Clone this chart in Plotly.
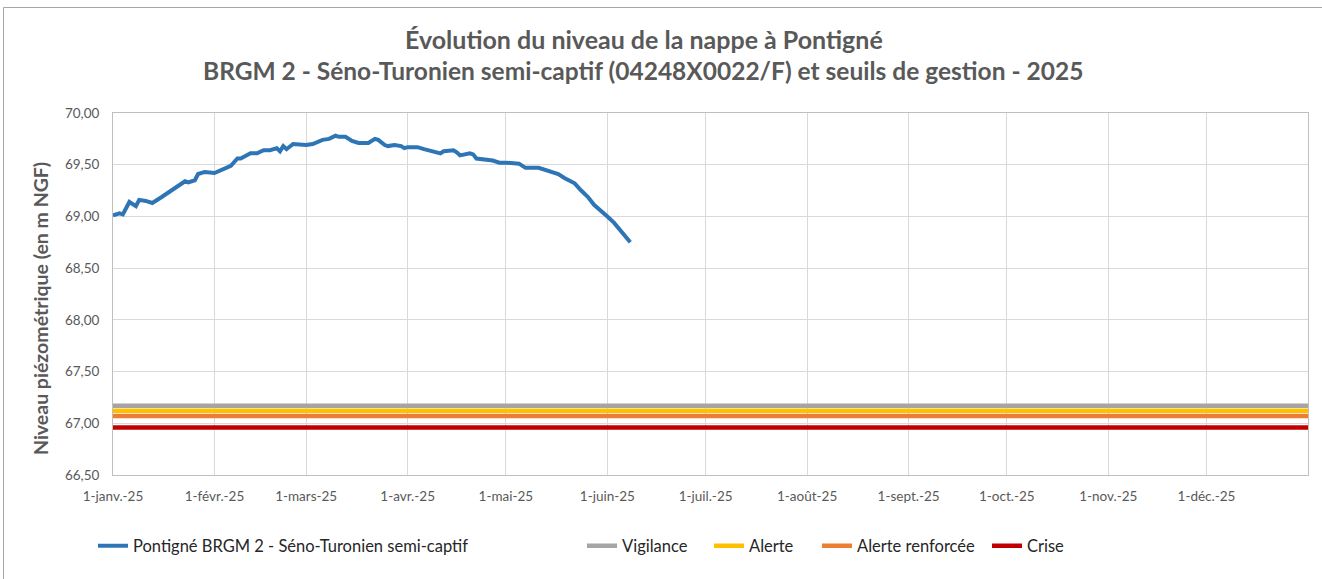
import plotly.graph_objects as go

# ---- data ----
dates = [
    "2025-01-01", "2025-01-03", "2025-01-04", "2025-01-06", "2025-01-08", "2025-01-09",
    "2025-01-11", "2025-01-13", "2025-01-16", "2025-01-17", "2025-01-20", "2025-01-21",
    "2025-01-23", "2025-01-24", "2025-01-26", "2025-01-27", "2025-01-29", "2025-02-01",
    "2025-02-03", "2025-02-05", "2025-02-06", "2025-02-08", "2025-02-09", "2025-02-12",
    "2025-02-14", "2025-02-16", "2025-02-18", "2025-02-20", "2025-02-21", "2025-02-22",
    "2025-02-23", "2025-02-25", "2025-03-01", "2025-03-03", "2025-03-06", "2025-03-08",
    "2025-03-10", "2025-03-11", "2025-03-13", "2025-03-15", "2025-03-17", "2025-03-20",
    "2025-03-21", "2025-03-22", "2025-03-23", "2025-03-25", "2025-03-26", "2025-03-28",
    "2025-03-30", "2025-03-31", "2025-04-01", "2025-04-04", "2025-04-06", "2025-04-08",
    "2025-04-09", "2025-04-11", "2025-04-12", "2025-04-15", "2025-04-16", "2025-04-17",
    "2025-04-20", "2025-04-21", "2025-04-22", "2025-04-24", "2025-04-27", "2025-04-29",
    "2025-05-01", "2025-05-05", "2025-05-06", "2025-05-07", "2025-05-11", "2025-05-13",
    "2025-05-15", "2025-05-17", "2025-05-19", "2025-05-22", "2025-05-24", "2025-05-26",
    "2025-05-28", "2025-05-30", "2025-06-01", "2025-06-03", "2025-06-05", "2025-06-07",
    "2025-06-08",
]
niveau = [
    69.01, 69.03, 69.02, 69.14, 69.10, 69.16,
    69.15, 69.13, 69.19, 69.21, 69.27, 69.29,
    69.34, 69.33, 69.35, 69.41, 69.43, 69.42,
    69.45, 69.47, 69.49, 69.56, 69.56, 69.61,
    69.61, 69.64, 69.64, 69.66, 69.63, 69.68,
    69.65, 69.70, 69.69, 69.70, 69.74, 69.75,
    69.78, 69.77, 69.77, 69.73, 69.71, 69.71,
    69.73, 69.75, 69.74, 69.69, 69.68, 69.69,
    69.68, 69.66, 69.67, 69.67, 69.65, 69.63,
    69.62, 69.61, 69.63, 69.64, 69.62, 69.59,
    69.61, 69.60, 69.56, 69.55, 69.54, 69.52,
    69.52, 69.51, 69.49, 69.47, 69.47, 69.45,
    69.43, 69.41, 69.37, 69.32, 69.25, 69.19,
    69.11, 69.06, 69.00, 68.94, 68.86, 68.79,
    68.75,
]

seuil_dates = ["2025-01-01", "2026-01-01"]
seuil_noms = ["Vigilance", "Alerte", "Alerte renforcée", "Crise"]
seuil_valeurs = [67.17, 67.12, 67.07, 66.96]
seuil_couleurs = ["#A5A5A5", "#FFC000", "#ED7D31", "#C00000"]

serie_nom = "Pontigné BRGM 2 - Séno-Turonien semi-captif"

mois_vals = ["2025-01-01", "2025-02-01", "2025-03-01", "2025-04-01", "2025-05-01", "2025-06-01",
             "2025-07-01", "2025-08-01", "2025-09-01", "2025-10-01", "2025-11-01", "2025-12-01"]
mois_labels = ["1-janv.-25", "1-févr.-25", "1-mars-25", "1-avr.-25", "1-mai-25", "1-juin-25",
               "1-juil.-25", "1-août-25", "1-sept.-25", "1-oct.-25", "1-nov.-25", "1-déc.-25"]
y_ticks = [66.5, 67.0, 67.5, 68.0, 68.5, 69.0, 69.5, 70.0]

FONT = "Lato, 'Open Sans', sans-serif"
GREY = "#595959"

# ---- figure ----
W, H = 1322, 579
L, R, T, B = 113, 14, 113, 104
pw, ph = W - L - R, H - T - B

def px_x(x):
    return (x - L) / pw

def px_y(y):
    return (H - B - y) / ph

fig = go.Figure()

for nom, val, col in zip(seuil_noms, seuil_valeurs, seuil_couleurs):
    fig.add_trace(go.Scatter(x=seuil_dates, y=[val, val], mode="lines", name=nom,
                             line=dict(color=col, width=4.5), hoverinfo="skip"))

fig.add_trace(go.Scatter(x=dates, y=niveau, mode="lines", name=serie_nom,
                         line=dict(color="#2E75B6", width=4)))

legend_text_x = [135, 624, 751, 859, 1029]
order = [serie_nom] + seuil_noms
legend_names = ["legend", "legend2", "legend3", "legend4", "legend5"]
for tr in fig.data:
    idx = order.index(tr.name)
    tr.legend = legend_names[idx]

legend_layout = {}
for i, ln in enumerate(legend_names):
    legend_layout[ln] = dict(
        x=px_x(legend_text_x[i] - 42), y=px_y(546), xanchor="left", yanchor="middle",
        orientation="h", bgcolor="rgba(0,0,0,0)", font=dict(family=FONT, size=16.5, color="#262626"),
        itemwidth=30,
    )

fig.update_layout(
    width=W, height=H,
    margin=dict(l=L, r=R, t=T, b=B),
    paper_bgcolor="white", plot_bgcolor="white",
    separators=", ",
    font=dict(family=FONT, color=GREY),
    showlegend=True,
    **legend_layout,
    xaxis=dict(type="date", range=["2025-01-01", "2026-01-01"],
               tickvals=mois_vals, ticktext=mois_labels, tickangle=0,
               tickfont=dict(size=13.5, color=GREY, family=FONT),
               showgrid=True, gridcolor="#D9D9D9", gridwidth=1,
               showline=True, linecolor="#BFBFBF", linewidth=1, mirror=True,
               ticks="", zeroline=False, ticklabelstandoff=9),
    yaxis=dict(range=[66.5, 70.0], tickvals=y_ticks, tickformat=".2f",
               tickfont=dict(size=13.5, color=GREY, family=FONT),
               showgrid=True, gridcolor="#D9D9D9", gridwidth=1,
               showline=True, linecolor="#BFBFBF", linewidth=1, mirror=True,
               ticks="", zeroline=False, ticklabelstandoff=10),
)

fig.add_annotation(text="<b>Évolution du niveau de la nappe à Pontigné</b>",
                   xref="paper", yref="paper", x=px_x(644), y=px_y(39),
                   xanchor="center", yanchor="middle", showarrow=False,
                   font=dict(family=FONT, size=25, color=GREY))
fig.add_annotation(text="<b>BRGM 2 - Séno-Turonien semi-captif (04248X0022/F) et seuils de gestion - 2025</b>",
                   xref="paper", yref="paper", x=px_x(643), y=px_y(71),
                   xanchor="center", yanchor="middle", showarrow=False,
                   font=dict(family=FONT, size=24.5, color=GREY))
fig.add_annotation(text="<b>Niveau piézométrique (en m NGF)</b>",
                   xref="paper", yref="paper", x=px_x(40), y=px_y(309),
                   xanchor="center", yanchor="middle", textangle=-90, showarrow=False,
                   font=dict(family=FONT, size=19.5, color=GREY))

fig.add_shape(type="rect", xref="paper", yref="paper",
              x0=px_x(3.5), x1=px_x(1330), y0=px_y(590), y1=px_y(7.5),
              line=dict(color="#A6A6A6", width=1), fillcolor="rgba(0,0,0,0)", layer="below")

fig.write_html("out.html", config={"displayModeBar": False},
               post_script="document.body.style.margin='0px';document.body.style.overflow='hidden';")
